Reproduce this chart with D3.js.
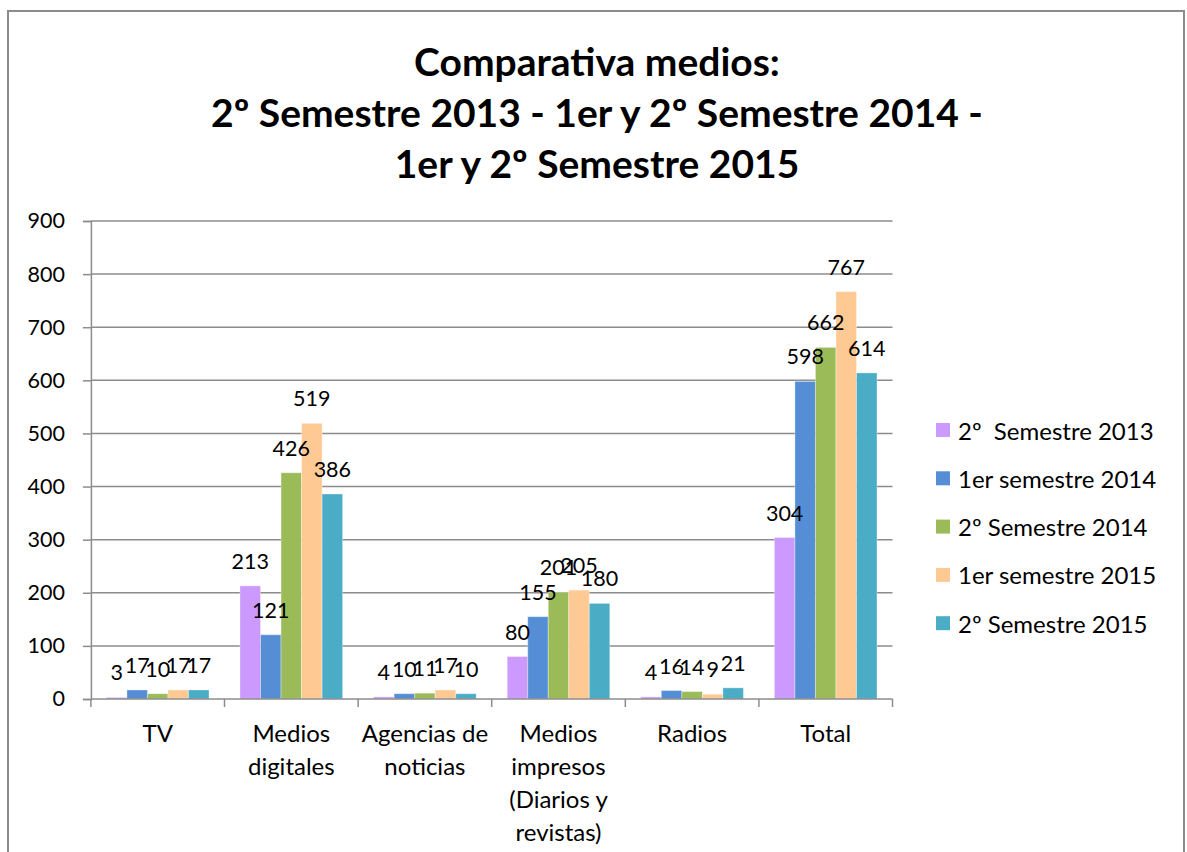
<!DOCTYPE html>
<html>
<head>
<meta charset="utf-8">
<script src="https://cdn.jsdelivr.net/npm/d3@7"></script>
<style>
  html, body { margin: 0; padding: 0; background: #fff; }
  svg { display: block; }
  text { font-family: Lato, "Open Sans", "Liberation Sans", sans-serif; fill: #000; }
</style>
</head>
<body>
<script>
const categories = ["TV", "Medios digitales", "Agencias de noticias", "Medios impresos (Diarios y revistas)", "Radios", "Total"];
const seriesNames = ["2º  Semestre 2013", "1er semestre 2014", "2º Semestre 2014", "1er semestre 2015", "2º Semestre 2015"];
const s2013b = [3, 213, 4, 80, 4, 304];
const s2014a = [17, 121, 10, 155, 16, 598];
const s2014b = [10, 426, 11, 201, 14, 662];
const s2015a = [17, 519, 17, 205, 9, 767];
const s2015b = [17, 386, 10, 180, 21, 614];
const seriesValues = [s2013b, s2014a, s2014b, s2015a, s2015b];
const colors = ["#CC99FF", "#558ED5", "#9BBB59", "#FFC993", "#4BACC6"];
const yTicks = [0, 100, 200, 300, 400, 500, 600, 700, 800, 900];
const titleLines = ["Comparativa medios:", "2º Semestre 2013 - 1er y 2º Semestre 2014 -", "1er y 2º Semestre 2015"];

const W = 1187, H = 852;
const svg = d3.select("body").append("svg").attr("width", W).attr("height", H);

// outer chart border
svg.append("rect").attr("x", 8).attr("y", 11).attr("width", 1176).attr("height", 860)
  .attr("fill", "#fff").attr("stroke", "#8c8c8c").attr("stroke-width", 2);

// title
svg.append("g").selectAll("text").data(titleLines).join("text")
  .attr("x", 597).attr("y", (d, i) => 61 + i * 51)
  .attr("text-anchor", "middle").attr("dominant-baseline", "central")
  .attr("font-weight", "bold").attr("font-size", 39)
  .text(d => d);

const plot = { left: 90.9, right: 892.5, top: 221, bottom: 699 };
const y = d3.scaleLinear().domain([0, 900]).range([plot.bottom, plot.top]);
const x0 = d3.scaleBand().domain(categories).range([plot.left, plot.right]).padding(0);
const x1 = d3.scaleBand().domain(d3.range(seriesNames.length)).range([0, x0.bandwidth()])
  .paddingInner(0).paddingOuter(0.755);

// gridlines
svg.append("g").selectAll("line").data(yTicks.filter(t => t > 0)).join("line")
  .attr("x1", plot.left).attr("x2", plot.right)
  .attr("y1", d => y(d)).attr("y2", d => y(d))
  .attr("stroke", "#8c8c8c").attr("stroke-width", 1.5);

// y axis
const yAxis = svg.append("g").attr("transform", `translate(${plot.left},0)`)
  .call(d3.axisLeft(y).tickValues(yTicks).tickSize(8).tickPadding(18).tickFormat(d3.format("d")));
yAxis.select(".domain").attr("stroke", "#8c8c8c").attr("stroke-width", 1.5);
yAxis.selectAll(".tick line").attr("stroke", "#8c8c8c").attr("stroke-width", 1.5);
yAxis.selectAll(".tick text").attr("font-size", 21.5).attr("font-family", "Lato, sans-serif").attr("fill", "#000");

// bars
const groups = svg.append("g").selectAll("g").data(categories).join("g")
  .attr("transform", d => `translate(${x0(d)},0)`);
const barData = (c, ci) => seriesValues.map((vals, si) => ({ si, v: vals[ci] }));
groups.each(function (c, ci) {
  const g = d3.select(this);
  const data = barData(c, ci);
  g.selectAll("rect").data(data).join("rect")
    .attr("x", d => x1(d.si)).attr("width", x1.bandwidth())
    .attr("y", d => y(d.v)).attr("height", d => y(0) - y(d.v))
    .attr("fill", d => colors[d.si])
    .attr("stroke", "rgba(255,255,255,0.35)").attr("stroke-width", 1);
  g.selectAll("text").data(data).join("text")
    .attr("x", d => x1(d.si) + x1.bandwidth() / 2)
    .attr("y", d => y(d.v) - 25)
    .attr("text-anchor", "middle").attr("dominant-baseline", "central")
    .attr("font-size", 21.5)
    .text(d => d.v);
});

// x axis
const xAxis = svg.append("g").attr("transform", `translate(0,${plot.bottom})`);
xAxis.append("line").attr("x1", plot.left).attr("x2", plot.right)
  .attr("y1", 0).attr("y2", 0).attr("stroke", "#8c8c8c").attr("stroke-width", 1.5);
const bounds = categories.map(c => x0(c)).concat([plot.right]);
xAxis.selectAll("line.tk").data(bounds).join("line").attr("class", "tk")
  .attr("x1", d => d).attr("x2", d => d).attr("y1", 0).attr("y2", 8)
  .attr("stroke", "#8c8c8c").attr("stroke-width", 1.5);

// category labels with wrapping
const labelG = xAxis.selectAll("text.cat").data(categories).join("text").attr("class", "cat")
  .attr("x", d => x0(d) + x0.bandwidth() / 2)
  .attr("y", 33)
  .attr("text-anchor", "middle").attr("dominant-baseline", "central")
  .attr("font-size", 24);
labelG.each(function (d) {
  const t = d3.select(this);
  const words = d.split(" ");
  const maxW = 134;
  let lines = [], cur = [];
  const probe = t.append("tspan");
  words.forEach(w => {
    const test = cur.concat([w]).join(" ");
    probe.text(test);
    if (probe.node().getComputedTextLength() > maxW && cur.length) {
      lines.push(cur.join(" "));
      cur = [w];
    } else cur.push(w);
  });
  lines.push(cur.join(" "));
  probe.remove();
  lines.forEach((ln, i) => {
    t.append("tspan").attr("x", x0(d) + x0.bandwidth() / 2).attr("y", 33 + i * 33).text(ln);
  });
});

// legend
const legend = svg.append("g").selectAll("g").data(seriesNames).join("g")
  .attr("transform", (d, i) => `translate(936,${430 + i * 48.3})`);
legend.append("rect").attr("x", 0).attr("y", -7).attr("width", 14).attr("height", 14)
  .attr("fill", (d, i) => colors[i]);
legend.append("text").attr("x", 22).attr("y", 0).attr("dominant-baseline", "central")
  .attr("font-size", 24).attr("xml:space", "preserve").style("white-space", "pre")
  .text(d => d);
</script>
</body>
</html>
